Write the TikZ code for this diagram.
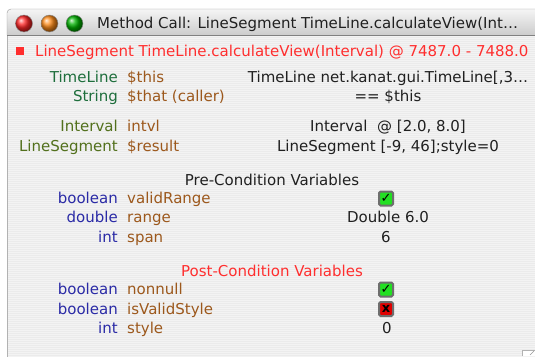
\documentclass[tikz,border=0pt]{standalone}
\usepackage{fontspec}
\setmainfont{DejaVu Sans}

\definecolor{winred}{HTML}{FF2E2E}
\definecolor{tgreen}{HTML}{1E6E3C}
\definecolor{tolive}{HTML}{52701C}
\definecolor{tblue}{HTML}{2A2AA6}
\definecolor{vbrown}{HTML}{9C581C}
\definecolor{valgray}{HTML}{202020}
\definecolor{stripeA}{HTML}{EBEBEB}
\definecolor{stripeB}{HTML}{F3F3F3}
\definecolor{boxrim}{HTML}{6E6E6E}
\definecolor{boxgreen}{HTML}{22E022}
\definecolor{boxred}{HTML}{E00000}

\begin{document}
\begin{tikzpicture}[x=1pt,y=-1pt,
        lbl/.style={inner sep=0pt, font=\fontsize{15}{18}\selectfont},
        typ/.style={lbl, anchor=base east},
        var/.style={lbl, anchor=base west, text=vbrown},
        val/.style={lbl, anchor=base, text=valgray},
        chkbox/.style={draw=boxrim, line width=2pt, rounded corners=1.5pt,
                minimum size=14pt, inner sep=0pt, font=\fontsize{13}{13}\selectfont\bfseries},
        light/.style={circle, minimum size=17pt, inner sep=0pt, draw=black!45}]
        \useasboundingbox (0,0) rectangle (535,356);
        %% window body, pinstriped
        \fill[stripeA] (7,35) rectangle (545,360);
        \foreach \y in {36,38,...,358}
                \fill[stripeB] (7,\y) rectangle (545,\y+1);
        \draw[black!30] (7,360) -- (7,35);
        %% title bar
        \shade[top color=black!4, bottom color=black!20, draw=black!40, rounded corners=4pt]
                (7,35) -- (7,9) -- (545,9) -- (545,35);
        \draw[black!50] (7,35) -- (545,35);
        \node[light, ball color=red!85] (closeBtn) at (24,23.5) {};
        \node[light, ball color=orange!90] (minBtn) at (49.5,23.5) {};
        \node[light, ball color=green!70!black] (zoomBtn) at (74.5,23.5) {};
        \node[lbl, anchor=base west, text=valgray] (title) at (97,28.5)
                {Method Call: LineSegment TimeLine.calculateView(Int\ldots};
        %% called method
        \node[fill=winred, minimum size=8.5pt, inner sep=0pt] (bullet) at (20,51) {};
        \node[lbl, anchor=base west, text=winred] (call) at (35,56.5)
                {LineSegment TimeLine.calculateView(Interval) @ 7487.0 - 7488.0};
        %% receiver, caller, argument and result
        \node[typ, text=tgreen] (thisType) at (118,82.5) {TimeLine};
        \node[var] (thisVar) at (127,82.5) {\$this};
        \node[val] (thisVal) at (388,82.5) {TimeLine net.kanat.gui.TimeLine[,3\ldots};
        \node[typ, text=tgreen] (thatType) at (118,101.5) {String};
        \node[var] (thatVar) at (127,101.5) {\$that (caller)};
        \node[val] (thatVal) at (388,101.5) {== \$this};
        \node[typ, text=tolive] (intvlType) at (118,131.5) {Interval};
        \node[var] (intvlVar) at (127,131.5) {intvl};
        \node[val] (intvlVal) at (388,131.5) {Interval\ \ @ [2.0, 8.0]};
        \node[typ, text=tolive] (resultType) at (118,151.5) {LineSegment};
        \node[var] (resultVar) at (127,151.5) {\$result};
        \node[val] (resultVal) at (388,151.5) {LineSegment [-9, 46];style=0};
        %% pre-conditions
        \node[val] (preHead) at (272,185) {Pre-Condition Variables};
        \node[typ, text=tblue] (validRangeType) at (118,203) {boolean};
        \node[var] (validRangeVar) at (127,203) {validRange};
        \node[chkbox, fill=boxgreen] (validRangeVal) at (386,198.5) {✓};
        \node[typ, text=tblue] (rangeType) at (118,222.5) {double};
        \node[var] (rangeVar) at (127,222.5) {range};
        \node[val] (rangeVal) at (388,222.5) {Double 6.0};
        \node[typ, text=tblue] (spanType) at (118,242) {int};
        \node[var] (spanVar) at (127,242) {span};
        \node[val] (spanVal) at (386,242) {6};
        %% post-conditions
        \node[val, text=winred] (postHead) at (272,276) {Post-Condition Variables};
        \node[typ, text=tblue] (nonnullType) at (118,294.5) {boolean};
        \node[var] (nonnullVar) at (127,294.5) {nonnull};
        \node[chkbox, fill=boxgreen] (nonnullVal) at (386,289.5) {✓};
        \node[typ, text=tblue] (validStyleType) at (118,314) {boolean};
        \node[var] (validStyleVar) at (127,314) {isValidStyle};
        \node[chkbox, fill=boxred] (validStyleVal) at (386,309) {x};
        \node[typ, text=tblue] (styleType) at (118,333) {int};
        \node[var] (styleVar) at (127,333) {style};
        \node[val] (styleVal) at (387,333) {0};
        %% resize grip
        \fill[white] (522,350) rectangle (535,356);
        \draw[black!30] (522,356) -- (522,350) -- (535,350);
        \draw[black!40] (530,355) -- (534,351);
\end{tikzpicture}
\end{document}
